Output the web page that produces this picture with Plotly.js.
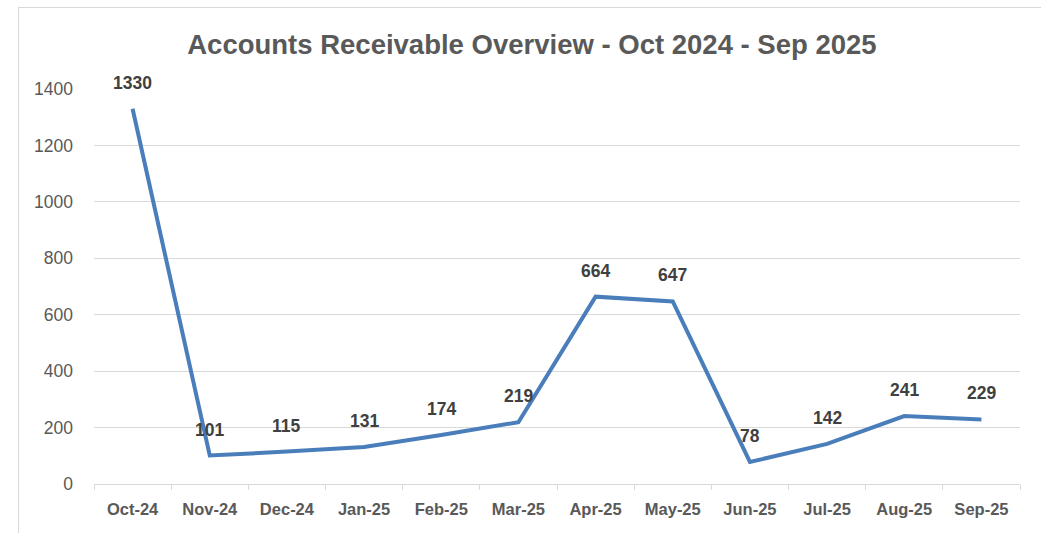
<!DOCTYPE html>
<html>
<head>
<meta charset="utf-8">
<script src="https://cdn.plot.ly/plotly-3.0.1.min.js"></script>
<style>
  html, body { margin: 0; padding: 0; background: #ffffff; }
  #frame { position: absolute; left: 18px; top: 7px; width: 1100px; height: 600px; border: 1px solid #d9d9d9; box-sizing: border-box; }
  #chart { position: absolute; left: 0; top: 0; width: 1041px; height: 533px; }
</style>
</head>
<body>
<div id="frame"></div>
<div id="chart"></div>
<script>
const months = ["Oct-24","Nov-24","Dec-24","Jan-25","Feb-25","Mar-25","Apr-25","May-25","Jun-25","Jul-25","Aug-25","Sep-25"];
const receivables = [1330, 101, 115, 131, 174, 219, 664, 647, 78, 142, 241, 229];
const yTicks = [0, 200, 400, 600, 800, 1000, 1200, 1400];
const chartTitle = "Accounts Receivable Overview - Oct 2024 - Sep 2025";

const trace = {
  x: months,
  y: receivables,
  type: "scatter",
  mode: "lines",
  line: { color: "#4a7ebb", width: 4 },
  hoverinfo: "x+y"
};

const annotations = months.map((m, i) => ({
  x: m,
  y: receivables[i],
  xref: "x",
  yref: "y",
  text: String(receivables[i]),
  showarrow: false,
  yshift: 26,
  font: { family: "Liberation Sans, Arial, sans-serif", size: 17.5, color: "#404040", weight: "bold" }
}));

const layout = {
  width: 1041,
  height: 533,
  paper_bgcolor: "rgba(0,0,0,0)",
  plot_bgcolor: "rgba(0,0,0,0)",
  margin: { l: 94, r: 21, t: 89, b: 49 },
  showlegend: false,
  title: {
    text: "<b>" + chartTitle + "</b>",
    x: 0.511,
    xanchor: "center",
    y: 0.917,
    yanchor: "middle",
    font: { family: "Liberation Sans Narrow, Arial Narrow, sans-serif", size: 27.5, color: "#595959" }
  },
  xaxis: {
    type: "category",
    range: [-0.5, 11.5],
    tickson: "boundaries",
    ticks: "outside",
    ticklen: 5,
    tickcolor: "#d9d9d9",
    showline: true,
    linecolor: "#d9d9d9",
    linewidth: 1,
    showgrid: false,
    zeroline: false,
    ticklabelstandoff: 10,
    tickfont: { family: "Liberation Sans, Arial, sans-serif", size: 16.5, color: "#595959", weight: "bold" },
    fixedrange: true
  },
  yaxis: {
    range: [0, 1400],
    tickvals: yTicks,
    ticktext: yTicks.map(String),
    showgrid: true,
    gridcolor: "#d9d9d9",
    gridwidth: 1,
    zeroline: false,
    showline: false,
    ticks: "",
    ticklabelstandoff: 20,
    tickfont: { family: "Liberation Sans, Arial, sans-serif", size: 17.5, color: "#595959" },
    fixedrange: true
  },
  annotations: annotations
};

Plotly.newPlot("chart", [trace], layout, { displayModeBar: false, staticPlot: true });
</script>
</body>
</html>
